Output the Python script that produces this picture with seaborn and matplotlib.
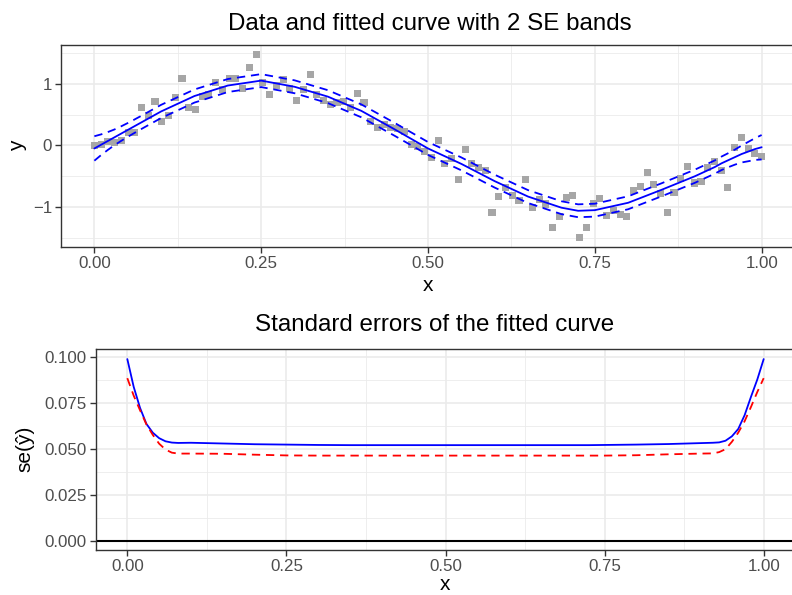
import numpy as np
import pandas as pd
import matplotlib
matplotlib.use("Agg")
import matplotlib.pyplot as plt
import seaborn as sns
from matplotlib.ticker import MultipleLocator

# ---------------- data ----------------
x_obs = np.linspace(0, 1, 100)
y_obs = [0.00, 0.02, 0.065, 0.05, 0.08, 0.21, 0.21, 0.62, 0.49, 0.71,
         0.39, 0.49, 0.78, 1.09, 0.62, 0.58, 0.79, 0.82, 1.02, 0.90,
         1.08, 1.08, 0.92, 1.26, 1.48,
         1.02, 0.83, 0.97, 1.07, 0.92, 0.73, 0.90, 1.15, 0.82, 0.73,
         0.66, 0.70, 0.71, 0.61, 0.84, 0.70, 0.39, 0.29, 0.34, 0.29,
         0.28, 0.23, 0.01, -0.02, -0.10,
         -0.19, 0.08, -0.29, -0.22, -0.55, -0.06, -0.29, -0.36, -0.40, -1.09,
         -0.83, -0.69, -0.81, -0.90, -0.55, -1.00, -0.87, -0.95, -1.33, -1.16,
         -0.84, -0.81, -1.50, -1.33, -0.94,
         -0.86, -1.14, -1.05, -1.12, -1.15, -0.73, -0.66, -0.44, -0.64, -0.78,
         -1.09, -0.76, -0.54, -0.34, -0.61, -0.58, -0.36, -0.26, -0.41, -0.68,
         -0.03, 0.13, -0.05, -0.13, -0.18]

x_grid = [0.00, 0.01, 0.02, 0.03, 0.04, 0.05, 0.06, 0.07, 0.08, 0.10,
          0.15, 0.20, 0.25, 0.30, 0.35, 0.40, 0.45, 0.50, 0.55, 0.60,
          0.65, 0.70, 0.725, 0.75, 0.80, 0.85, 0.90, 0.92, 0.93, 0.94,
          0.95, 0.96, 0.97, 0.98, 0.99, 1.00]
fit = [-0.05, 0.01, 0.07, 0.13, 0.19, 0.25, 0.31, 0.37, 0.43, 0.55,
       0.80, 0.97, 1.05, 0.95, 0.79, 0.56, 0.26, -0.05, -0.30, -0.58,
       -0.83, -1.01, -1.06, -1.05, -0.93, -0.72, -0.50, -0.40, -0.35, -0.29,
       -0.24, -0.19, -0.14, -0.10, -0.06, -0.03]
se_bayes = [0.0991, 0.0840, 0.0725, 0.0638, 0.0590, 0.0560, 0.0543, 0.0536, 0.0534, 0.0535,
            0.0531, 0.0527, 0.0525, 0.0523, 0.0522, 0.0522, 0.0522, 0.0522, 0.0522, 0.0522,
            0.0522, 0.0522, 0.0522, 0.0523, 0.0525, 0.0528, 0.0533, 0.0535, 0.0537, 0.0546,
            0.0570, 0.0610, 0.0685, 0.0785, 0.0880, 0.0991]
se_freq = [0.0887, 0.0792, 0.0712, 0.0635, 0.0578, 0.0530, 0.0498, 0.0481, 0.0476, 0.0476,
           0.0475, 0.0470, 0.0466, 0.0465, 0.0465, 0.0465, 0.0465, 0.0465, 0.0465, 0.0465,
           0.0465, 0.0465, 0.0465, 0.0465, 0.0467, 0.0472, 0.0476, 0.0477, 0.0484, 0.0500,
           0.0540, 0.0590, 0.0652, 0.0730, 0.0812, 0.0887]

x_ticks = [0.00, 0.25, 0.50, 0.75, 1.00]
x_ticklabels = ["0.00", "0.25", "0.50", "0.75", "1.00"]
y_ticks_top = [-1, 0, 1]
y_ticks_bot = [0.000, 0.025, 0.050, 0.075, 0.100]
y_ticklabels_bot = ["0.000", "0.025", "0.050", "0.075", "0.100"]

# ---------------- style ----------------
sns.set_theme(style="white")
plt.rcParams["font.family"] = ["Liberation Sans", "DejaVu Sans"]
plt.rcParams["axes.unicode_minus"] = True

W, H = 792, 595
fig = plt.figure(figsize=(W / 100, H / 100), dpi=100)

def px_axes(left, top, right, bottom):
    return fig.add_axes([left / W, 1 - bottom / H, (right - left) / W, (bottom - top) / H])

ax1 = px_axes(61, 45, 795, 247)
ax2 = px_axes(95.5, 349, 795.5, 550)

TICK_COL = "#4D4D4D"
GRID_COL = "#EBEBEB"

def style_axes(ax):
    for s in ax.spines.values():
        s.set_color("#333333")
        s.set_linewidth(1.0)
    ax.spines["right"].set_visible(False)
    ax.set_facecolor("white")
    ax.grid(which="major", color=GRID_COL, linewidth=1.2, zorder=0)
    ax.grid(which="minor", color=GRID_COL, linewidth=0.6, zorder=0)
    ax.set_axisbelow(True)
    ax.tick_params(which="major", direction="out", length=4, width=1.0,
                   color="#333333", labelcolor=TICK_COL, labelsize=12.2,
                   bottom=True, left=True, pad=2.5)
    ax.tick_params(which="minor", length=0)

# ---------------- top panel ----------------
df_obs = pd.DataFrame({"x": x_obs, "y": y_obs})
df_fit = pd.DataFrame({"x": x_grid, "fit": fit, "se": se_bayes})
df_fit["upper"] = df_fit["fit"] + 2 * df_fit["se"]
df_fit["lower"] = df_fit["fit"] - 2 * df_fit["se"]

sns.scatterplot(data=df_obs, x="x", y="y", ax=ax1, marker="s", s=26,
                color="#A6A6A6", edgecolor="none", linewidth=0, zorder=2)
sns.lineplot(data=df_fit, x="x", y="fit", ax=ax1, color="#0000FF", lw=1.3, zorder=3)
for col in ["upper", "lower"]:
    sns.lineplot(data=df_fit, x="x", y=col, ax=ax1, color="#0000FF", lw=1.3,
                 linestyle=(0, (4.6, 3.2)), zorder=3)

ax1.set_xlim(-0.05, 1.05)
ax1.set_ylim(-1.647, 1.627)
ax1.set_xticks(x_ticks)
ax1.set_xticklabels(x_ticklabels)
ax1.set_yticks(y_ticks_top)
ax1.xaxis.set_minor_locator(MultipleLocator(0.125))
ax1.yaxis.set_minor_locator(MultipleLocator(0.5))
style_axes(ax1)
ax1.set_xlabel("")
ax1.set_ylabel("")

# ---------------- bottom panel ----------------
df_se = pd.DataFrame({"x": x_grid, "bayes": se_bayes, "freq": se_freq})
ax2.axhline(0, color="black", lw=1.5, zorder=2)
sns.lineplot(data=df_se, x="x", y="bayes", ax=ax2, color="#0000FF", lw=1.3, zorder=3)
sns.lineplot(data=df_se, x="x", y="freq", ax=ax2, color="#FF0000", lw=1.3,
             linestyle=(0, (4.6, 3.2)), zorder=3)

ax2.set_xlim(-0.05, 1.05)
ax2.set_ylim(-0.00495, 0.1046)
ax2.set_xticks(x_ticks)
ax2.set_xticklabels(x_ticklabels)
ax2.set_yticks(y_ticks_bot)
ax2.set_yticklabels(y_ticklabels_bot)
ax2.xaxis.set_minor_locator(MultipleLocator(0.125))
ax2.yaxis.set_minor_locator(MultipleLocator(0.0125))
style_axes(ax2)
ax2.set_xlabel("")
ax2.set_ylabel("")

# ---------------- texts ----------------
def ftxt(xp, yp, s, size, rot=0):
    fig.text(xp / W, 1 - yp / H, s, ha="center", va="center", fontsize=size,
             rotation=rot, color="black")

ftxt(429.5, 24, "Data and fitted curve with 2 SE bands", 17.4)
ftxt(434.5, 325, "Standard errors of the fitted curve", 17.4)
ftxt(428, 285, "x", 15)
ftxt(445, 584, "x", 15)
ftxt(18, 146, "y", 15, rot=90)
ftxt(25, 449, "se(ŷ)", 15, rot=90)

fig.savefig("out.png", dpi=100)
